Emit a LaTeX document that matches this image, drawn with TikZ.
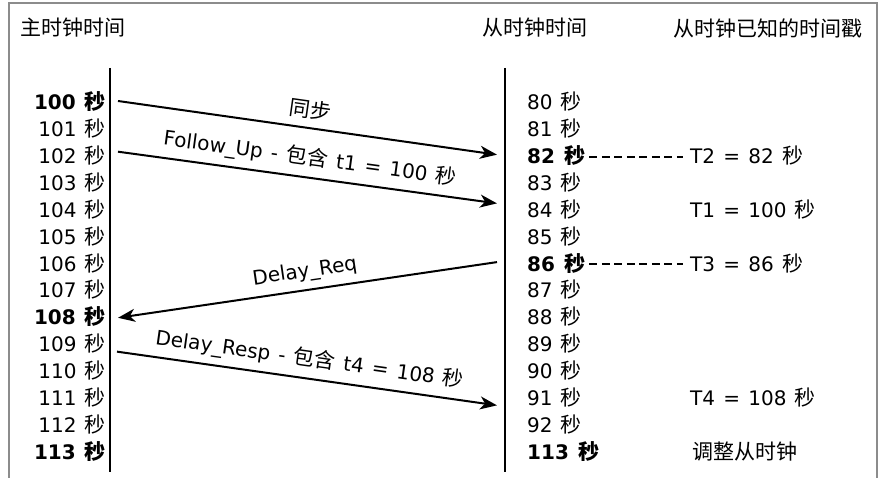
\documentclass[tikz,border=0pt]{standalone}
\usepackage{fontspec}
\setmainfont{DejaVu Sans}[WordSpace=1.3]
\newfontfamily\cjk[Scale=1.05]{Noto Sans CJK SC}
\newcommand{\zh}[1]{{\cjk #1}}
\usetikzlibrary{arrows.meta}
\definecolor{frame}{HTML}{8c8c8c}
\tikzset{>={Stealth[length=17pt,width=13pt,inset=5pt]}}
\tikzset{
  mtime/.style={anchor=east, inner sep=0pt, text height=15pt, text depth=1pt},
  stime/.style={anchor=west, inner sep=0pt, text height=15pt, text depth=1pt},
  head/.style={anchor=west, inner sep=0pt},
  lifeline/.style={line width=2.6pt},
  msg/.style={->, line width=2pt},
  msglabel/.style={midway, sloped, inner sep=2pt},
  stamp/.style={dash pattern=on 8pt off 4.5pt, line width=2pt}
}

\begin{document}
\begin{tikzpicture}[x=1pt, y=1pt, font=\fontsize{20}{24}\selectfont]
    \useasboundingbox (0,0) rectangle (885,478);
    \draw[frame, line width=1.5pt] (9,0) -- (9,475) -- (877,475) -- (877,0);

    \node at (20, 450) (hmaster) [head] {\zh{主时钟时间}};
    \node at (482, 450) (hslave) [head] {\zh{从时钟时间}};
    \node at (673, 450) (hknown) [head] {\zh{从时钟已知的时间戳}};

    \draw[lifeline] (110,410) -- (110,6);
    \draw[lifeline] (505,410) -- (505,6);

    % master clock
    \node at (106, 375) (m100) [mtime] {\textbf{100 \zh{秒}}};
    \node at (106, 348.15) (m101) [mtime] {101 \zh{秒}};
    \node at (106, 321.3) (m102) [mtime] {102 \zh{秒}};
    \node at (106, 294.45) (m103) [mtime] {103 \zh{秒}};
    \node at (106, 267.6) (m104) [mtime] {104 \zh{秒}};
    \node at (106, 240.75) (m105) [mtime] {105 \zh{秒}};
    \node at (106, 213.9) (m106) [mtime] {106 \zh{秒}};
    \node at (106, 187.05) (m107) [mtime] {107 \zh{秒}};
    \node at (106, 160.2) (m108) [mtime] {\textbf{108 \zh{秒}}};
    \node at (106, 133.35) (m109) [mtime] {109 \zh{秒}};
    \node at (106, 106.5) (m110) [mtime] {110 \zh{秒}};
    \node at (106, 79.65) (m111) [mtime] {111 \zh{秒}};
    \node at (106, 52.8) (m112) [mtime] {112 \zh{秒}};
    \node at (106, 25.95) (m113) [mtime] {\textbf{113 \zh{秒}}};

    % slave clock
    \node at (527, 375) (s80) [stime] {80 \zh{秒}};
    \node at (527, 348.15) (s81) [stime] {81 \zh{秒}};
    \node at (527, 321.3) (s82) [stime] {\textbf{82 \zh{秒}}};
    \node at (527, 294.45) (s83) [stime] {83 \zh{秒}};
    \node at (527, 267.6) (s84) [stime] {84 \zh{秒}};
    \node at (527, 240.75) (s85) [stime] {85 \zh{秒}};
    \node at (527, 213.9) (s86) [stime] {\textbf{86 \zh{秒}}};
    \node at (527, 187.05) (s87) [stime] {87 \zh{秒}};
    \node at (527, 160.2) (s88) [stime] {88 \zh{秒}};
    \node at (527, 133.35) (s89) [stime] {89 \zh{秒}};
    \node at (527, 106.5) (s90) [stime] {90 \zh{秒}};
    \node at (527, 79.65) (s91) [stime] {91 \zh{秒}};
    \node at (527, 52.8) (s92) [stime] {92 \zh{秒}};
    \node at (527, 25.95) (s113) [stime] {\textbf{113 \zh{秒}}};

    % timestamps
    \node at (690, 321.3) (t2) [stime] {T2 = 82 \zh{秒}};
    \node at (690, 267.6) (t1) [stime] {T1 = 100 \zh{秒}};
    \node at (690, 213.9) (t3) [stime] {T3 = 86 \zh{秒}};
    \node at (690, 79.65) (t4) [stime] {T4 = 108 \zh{秒}};
    \node at (692, 25.95) (adjust) [stime] {\zh{调整从时钟}};

    \draw[msg] ([xshift=12pt,yshift=2pt]m100.east) -- node[msglabel, above=6pt] {\zh{同步}} ([xshift=-30pt,yshift=2pt]s82.west);
    \draw[msg] ([xshift=12pt,yshift=5pt]m102.east) -- node[msglabel, above=5pt] {Follow\_Up - \zh{包含} t1 = 100 \zh{秒}} ([xshift=-30pt,yshift=7pt]s84.west);
    \draw[msg] ([xshift=-30pt,yshift=2pt]s86.west) -- node[msglabel, above=5pt] {Delay\_Req} ([xshift=12pt]m108.east);
    \draw[msg] ([xshift=11pt,yshift=-7pt]m109.east) -- node[msglabel, above=5pt] {Delay\_Resp - \zh{包含} t4 = 108 \zh{秒}} ([xshift=-30pt,yshift=-7pt]s91.west);

    \draw[stamp] ([xshift=4pt]s82.east) -- ([xshift=-7pt]t2.west);
    \draw[stamp] ([xshift=4pt]s86.east) -- ([xshift=-7pt]t3.west);
\end{tikzpicture}
\end{document}
